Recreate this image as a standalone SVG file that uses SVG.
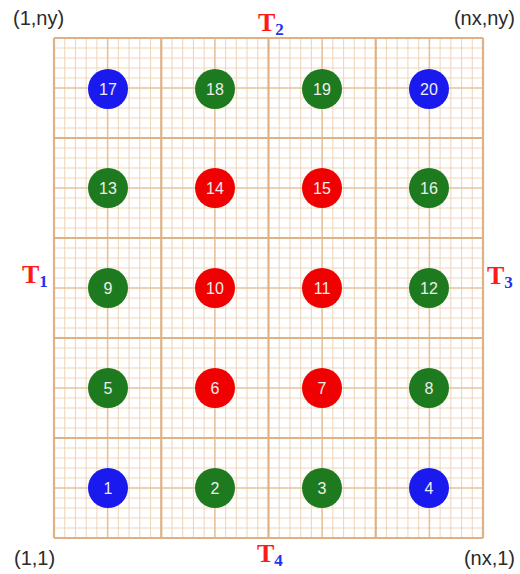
<svg xmlns="http://www.w3.org/2000/svg" width="520" height="574" viewBox="0 0 520 574">
<style>
.minor{stroke:#efd7bd;stroke-width:1.1;fill:none}
.mid{stroke:#e6c29c;stroke-width:1.6;fill:none}
.major{stroke:#e0b184;stroke-width:2.2;fill:none}
.corner{font-family:"Liberation Sans",Arial,sans-serif;font-size:20px;fill:#2a2a2a}
.T{font-family:"Liberation Serif","Times New Roman",serif;font-weight:bold;font-size:26px;fill:#ff1a1a}
.sub{font-family:"Liberation Serif","Times New Roman",serif;font-weight:bold;font-size:17px;fill:#2233ee}
.num{font-family:"Liberation Sans",Arial,sans-serif;font-size:16px;fill:#eeeeee;text-anchor:middle;dominant-baseline:central}
.b{fill:#1a1aee}.g{fill:#1e7a1e}.r{fill:#f00000}
</style>
<rect width="520" height="574" fill="#ffffff"/>
<g id="grid">
<path class="minor" d="M64.73 38V538M75.45 38V538M86.18 38V538M96.9 38V538M118.35 38V538M129.08 38V538M139.8 38V538M150.53 38V538M171.98 38V538M182.7 38V538M193.43 38V538M204.15 38V538M225.6 38V538M236.33 38V538M247.05 38V538M257.78 38V538M279.23 38V538M289.95 38V538M300.68 38V538M311.4 38V538M332.85 38V538M343.58 38V538M354.3 38V538M365.03 38V538M386.48 38V538M397.2 38V538M407.93 38V538M418.65 38V538M440.1 38V538M450.83 38V538M461.55 38V538M472.28 38V538
M54 48H483M54 58H483M54 68H483M54 78H483M54 98H483M54 108H483M54 118H483M54 128H483M54 148H483M54 158H483M54 168H483M54 178H483M54 198H483M54 208H483M54 218H483M54 228H483M54 248H483M54 258H483M54 268H483M54 278H483M54 298H483M54 308H483M54 318H483M54 328H483M54 348H483M54 358H483M54 368H483M54 378H483M54 398H483M54 408H483M54 418H483M54 428H483M54 448H483M54 458H483M54 468H483M54 478H483M54 498H483M54 508H483M54 518H483M54 528H483"/>
<path class="mid" d="M107.63 38V538M214.88 38V538M322.13 38V538M429.38 38V538M54 88H483M54 188H483M54 288H483M54 388H483M54 488H483"/>
<path class="major" d="M54 38V538M161.25 38V538M268.5 38V538M375.75 38V538M483 38V538M54 38H483M54 138H483M54 238H483M54 338H483M54 438H483M54 538H483"/>
</g>
<g id="labels">
<text class="corner" x="13" y="25">(1,ny)</text>
<text class="corner" x="515" y="25" text-anchor="end">(nx,ny)</text>
<text class="corner" x="14" y="565">(1,1)</text>
<text class="corner" x="515" y="565" text-anchor="end">(nx,1)</text>
<text x="258" y="31"><tspan class="T">T</tspan><tspan class="sub" dy="4">2</tspan></text>
<text x="22" y="283"><tspan class="T">T</tspan><tspan class="sub" dy="4">1</tspan></text>
<text x="487" y="284"><tspan class="T">T</tspan><tspan class="sub" dy="4">3</tspan></text>
<text x="257" y="562"><tspan class="T">T</tspan><tspan class="sub" dy="4">4</tspan></text>
</g>
<g id="connectors"/>
<g id="n1"><circle class="b" cx="108" cy="488" r="20"/><text class="num" x="108" y="488">1</text></g>
<g id="n2"><circle class="g" cx="215" cy="488" r="20"/><text class="num" x="215" y="488">2</text></g>
<g id="n3"><circle class="g" cx="322" cy="488" r="20"/><text class="num" x="322" y="488">3</text></g>
<g id="n4"><circle class="b" cx="429" cy="488" r="20"/><text class="num" x="429" y="488">4</text></g>
<g id="n5"><circle class="g" cx="108" cy="388" r="20"/><text class="num" x="108" y="388">5</text></g>
<g id="n6"><circle class="r" cx="215" cy="388" r="20"/><text class="num" x="215" y="388">6</text></g>
<g id="n7"><circle class="r" cx="322" cy="388" r="20"/><text class="num" x="322" y="388">7</text></g>
<g id="n8"><circle class="g" cx="429" cy="388" r="20"/><text class="num" x="429" y="388">8</text></g>
<g id="n9"><circle class="g" cx="108" cy="288" r="20"/><text class="num" x="108" y="288">9</text></g>
<g id="n10"><circle class="r" cx="215" cy="288" r="20"/><text class="num" x="215" y="288">10</text></g>
<g id="n11"><circle class="r" cx="322" cy="288" r="20"/><text class="num" x="322" y="288">11</text></g>
<g id="n12"><circle class="g" cx="429" cy="288" r="20"/><text class="num" x="429" y="288">12</text></g>
<g id="n13"><circle class="g" cx="108" cy="188" r="20"/><text class="num" x="108" y="188">13</text></g>
<g id="n14"><circle class="r" cx="215" cy="188" r="20"/><text class="num" x="215" y="188">14</text></g>
<g id="n15"><circle class="r" cx="322" cy="188" r="20"/><text class="num" x="322" y="188">15</text></g>
<g id="n16"><circle class="g" cx="429" cy="188" r="20"/><text class="num" x="429" y="188">16</text></g>
<g id="n17"><circle class="b" cx="108" cy="89" r="20"/><text class="num" x="108" y="89">17</text></g>
<g id="n18"><circle class="g" cx="215" cy="89" r="20"/><text class="num" x="215" y="89">18</text></g>
<g id="n19"><circle class="g" cx="322" cy="89" r="20"/><text class="num" x="322" y="89">19</text></g>
<g id="n20"><circle class="b" cx="429" cy="89" r="20"/><text class="num" x="429" y="89">20</text></g>
</svg>
